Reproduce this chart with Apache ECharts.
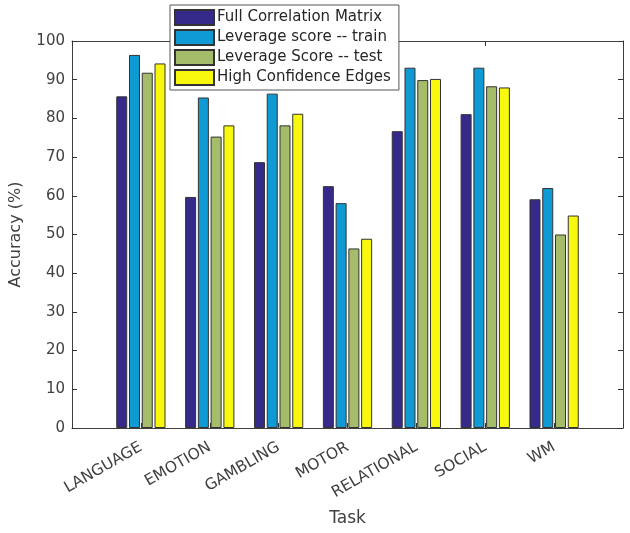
<!DOCTYPE html>
<html>
<head>
<meta charset="utf-8">
<style>
  html, body { margin: 0; padding: 0; background: #fff; }
  #chart { width: 630px; height: 533px; }
</style>
<script src="https://cdn.jsdelivr.net/npm/echarts@6/dist/echarts.min.js"></script>
</head>
<body>
<div id="chart"></div>
<script>
// empty slots at both ends give the x range 0..8 like the original axes
const tasks = ['', 'LANGUAGE', 'EMOTION', 'GAMBLING', 'MOTOR', 'RELATIONAL', 'SOCIAL', 'WM', '']
const fullCorr = [null, 85.7, 59.7, 68.7, 62.5, 76.7, 81.1, 59.1, null]
const levTrain = [null, 96.4, 85.4, 86.4, 58.1, 93.1, 93.1, 62.0, null]
const levTest = [null, 91.8, 75.3, 78.2, 46.4, 89.9, 88.3, 50.0, null]
const highConf = [null, 94.2, 78.2, 81.2, 48.9, 90.2, 88.0, 54.9, null]
const seriesNames = ['Full Correlation Matrix', 'Leverage score -- train', 'Leverage Score -- test', 'High Confidence Edges']
const colors = ['#35298a', '#0f9ad3', '#a5bd6a', '#f8f80e']

const chart = echarts.init(document.getElementById('chart'))
const font = 'DejaVu Sans'
const frame = { show: true, onZero: false, lineStyle: { color: '#404040', width: 1 } }
const tick = { show: true, inside: true, length: 5, lineStyle: { color: '#333' } }

const bar = (name, data, color) => ({
  name,
  type: 'bar',
  data,
  barWidth: 11,
  barGap: '16%',
  itemStyle: { color, borderColor: '#333', borderWidth: 1 },
  animation: false
})

chart.setOption({
  textStyle: { fontFamily: font },
  grid: { left: 69, top: 41, right: 7, bottom: 105 },
  legend: {
    orient: 'vertical',
    left: 170,
    top: 5,
    padding: [4, 8, 4, 4],
    itemWidth: 39,
    itemHeight: 15,
    itemGap: 3,
    icon: 'rect',
    backgroundColor: '#fff',
    borderColor: '#555',
    borderWidth: 1,
    borderRadius: 0,
    textStyle: { fontSize: 15, lineHeight: 15, color: '#262626', fontFamily: font, padding: [0, 0, 0, -2] },
    data: seriesNames
  },
  xAxis: [{
    type: 'category',
    data: tasks,
    boundaryGap: false,
    name: 'Task',
    nameLocation: 'middle',
    nameGap: 82,
    nameTextStyle: { fontSize: 17, color: '#404040', fontFamily: font },
    axisLine: frame,
    axisTick: tick,
    axisLabel: { rotate: 30, interval: 0, margin: 18, fontSize: 15.5, color: '#404040', fontFamily: font },
    splitLine: { show: false }
  }, {
    type: 'category',
    data: tasks,
    boundaryGap: false,
    position: 'top',
    axisLine: frame,
    axisTick: tick,
    axisLabel: { show: false },
    splitLine: { show: false }
  }],
  yAxis: [{
    type: 'value',
    min: 0,
    max: 100,
    interval: 10,
    name: 'Accuracy (%)',
    nameLocation: 'middle',
    nameGap: 48,
    nameTextStyle: { fontSize: 16, color: '#404040', fontFamily: font },
    axisLine: frame,
    axisTick: tick,
    axisLabel: { fontSize: 15, color: '#404040', margin: 7, fontFamily: font },
    splitLine: { show: false }
  }, {
    type: 'value',
    min: 0,
    max: 100,
    interval: 10,
    position: 'right',
    axisLine: frame,
    axisTick: tick,
    axisLabel: { show: false },
    splitLine: { show: false }
  }],
  series: [
    bar(seriesNames[0], fullCorr, colors[0]),
    bar(seriesNames[1], levTrain, colors[1]),
    bar(seriesNames[2], levTest, colors[2]),
    bar(seriesNames[3], highConf, colors[3])
  ]
})
</script>
</body>
</html>
